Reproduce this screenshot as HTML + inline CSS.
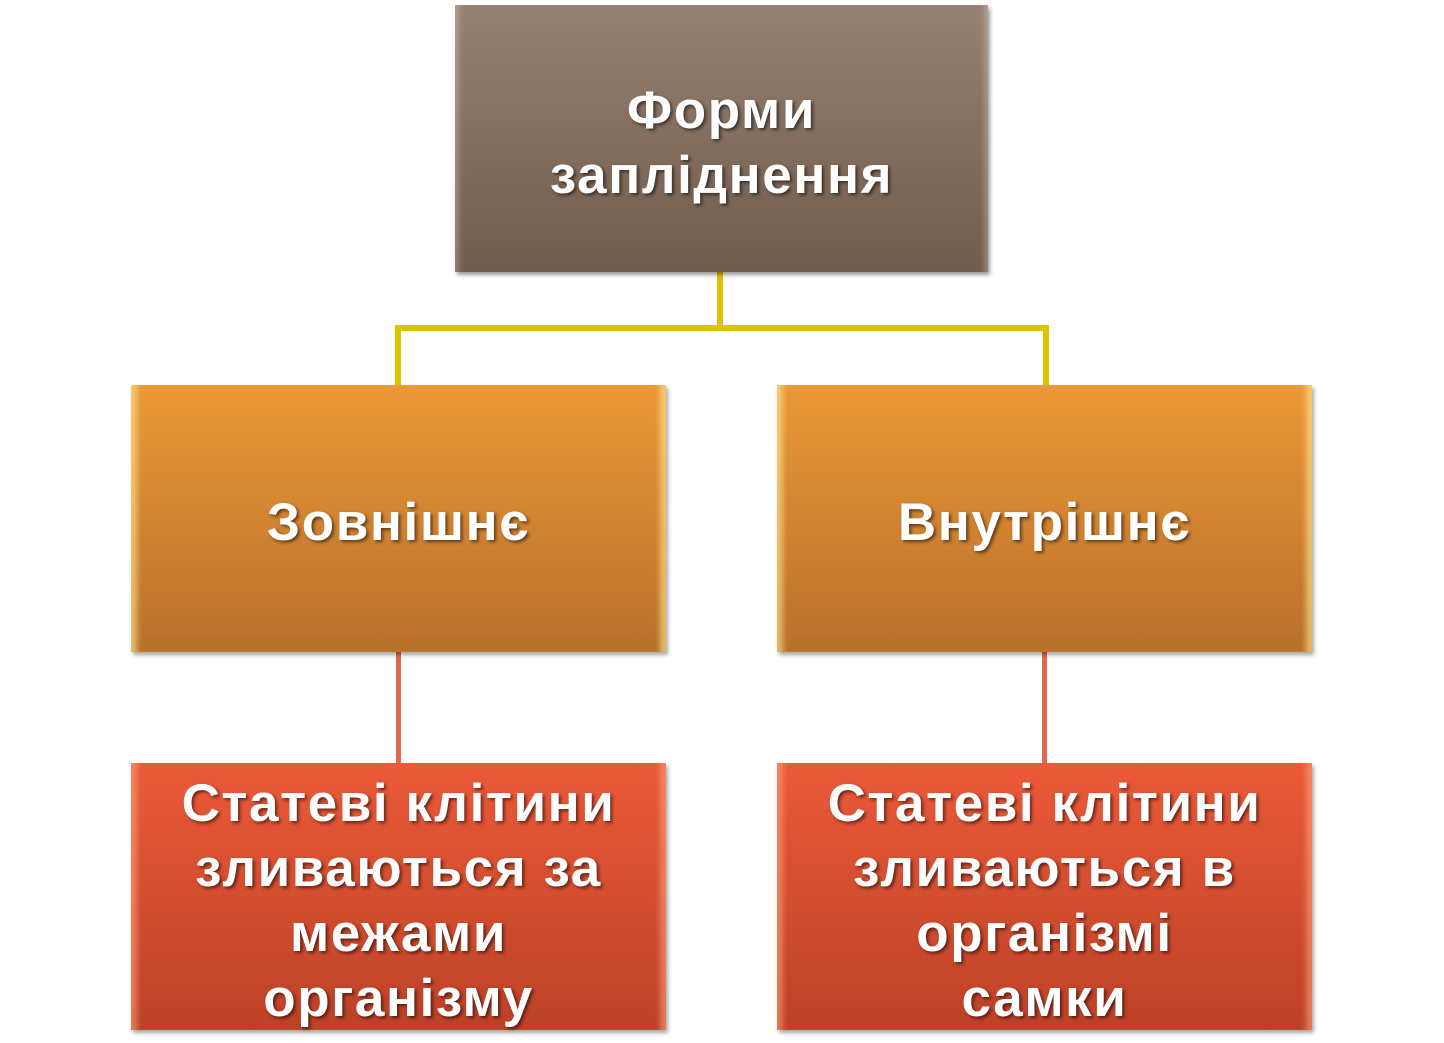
<!DOCTYPE html>
<html><head><meta charset="utf-8"><style>
html,body{margin:0;padding:0;background:#fff;width:1444px;height:1043px;overflow:hidden;position:relative}
.b{position:absolute;width:535px;height:267px;box-sizing:border-box;padding-top:8px;display:flex;align-items:center;justify-content:center;text-align:center;color:#fff;font-family:"Liberation Sans",sans-serif;font-weight:bold;font-size:53px;line-height:65px;letter-spacing:1.6px;text-shadow:2px 2px 3px rgba(0,0,0,.55);box-shadow:2px 3px 4px rgba(0,0,0,.35)}
.t{left:455px;top:5px;width:533px;background:linear-gradient(#968171,#705b4d);box-shadow:inset 8px 0 6px -4px rgba(255,255,255,.25),inset -8px 0 6px -4px rgba(255,255,255,.25),2px 3px 4px rgba(0,0,0,.4)}
.o{top:385px;background:linear-gradient(#ec9838,#b8702a);box-shadow:inset 10px 0 6px -4px rgba(255,235,150,.6),inset -10px 0 6px -4px rgba(255,235,150,.6),2px 3px 4px rgba(0,0,0,.35)}
.r{top:763px;background:linear-gradient(#eb5a38,#bc4127);box-shadow:inset 10px 0 6px -4px rgba(255,170,130,.55),inset -10px 0 6px -4px rgba(255,170,130,.55),2px 3px 4px rgba(0,0,0,.35)}
.l{position:absolute}
.y{background:#dcc400}
.p{background:#dc6a50}
</style></head><body>
<div class="l y" style="left:717px;top:272px;width:6px;height:59px"></div>
<div class="l y" style="left:395px;top:325px;width:654px;height:6px"></div>
<div class="l y" style="left:395px;top:325px;width:6px;height:62px"></div>
<div class="l y" style="left:1043px;top:325px;width:6px;height:62px"></div>
<div class="l p" style="left:396px;top:652px;width:5px;height:112px"></div>
<div class="l p" style="left:1042px;top:652px;width:5px;height:112px"></div>
<div class="b t">Форми<br>запліднення</div>
<div class="b o" style="left:131px">Зовнішнє</div>
<div class="b o" style="left:777px">Внутрішнє</div>
<div class="b r" style="left:131px">Статеві клітини<br>зливаються за<br>межами<br>організму</div>
<div class="b r" style="left:777px">Статеві клітини<br>зливаються в<br>організмі<br>самки</div>
</body></html>
